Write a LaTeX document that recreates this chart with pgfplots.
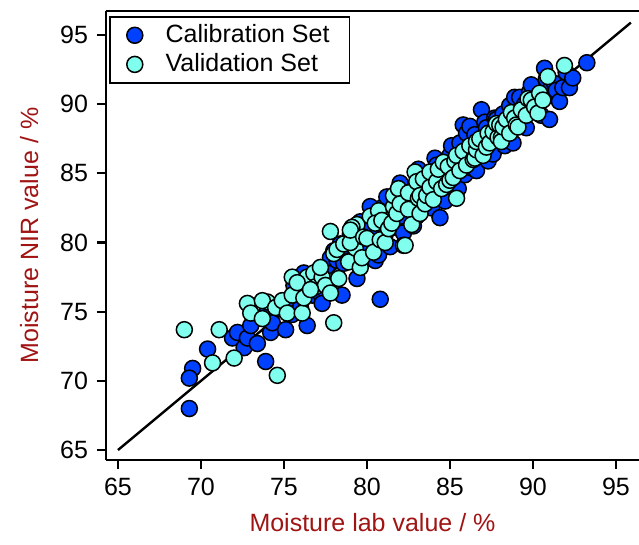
\documentclass[border=0pt]{standalone}
\usepackage{pgfplots}
\pgfplotsset{compat=1.18}
\usepackage{fontspec}
\setmainfont{Liberation Sans}
\usetikzlibrary{calc}

\definecolor{calblue}{RGB}{0,64,255}
\definecolor{valcyan}{RGB}{128,255,238}
\definecolor{labred}{RGB}{160,20,20}

\pgfplotstableread{
x y
69.3 68.0
69.5 70.9
69.3 70.2
70.4 72.3
71.9 73.1
72.2 73.5
72.6 72.4
72.8 73.1
73.0 74.0
73.4 72.7
73.9 71.4
74.0 75.0
74.2 73.5
74.3 74.2
74.7 75.2
75.0 75.5
75.1 73.7
75.5 74.8
75.3 75.9
75.6 76.9
75.8 76.5
76.0 75.3
76.1 76.1
76.2 77.8
76.4 74.0
76.7 76.2
76.5 77.4
77.0 77.9
77.1 77.0
77.2 76.3
77.3 75.6
77.6 78.3
77.8 78.9
77.9 77.0
78.0 79.4
78.2 78.7
78.4 79.9
78.5 76.2
78.6 78.5
78.8 79.5
79.0 80.6
79.0 79.6
79.2 78.9
79.4 77.4
79.5 80.2
79.6 81.5
79.8 79.4
80.0 79.8
80.1 81.0
80.2 82.6
80.3 81.9
80.4 80.2
80.5 78.7
80.6 80.6
80.7 79.1
80.8 75.9
80.9 81.8
81.0 82.6
81.1 80.6
81.2 83.3
81.3 82.2
81.4 79.7
81.6 81.1
81.8 83.0
81.9 81.6
82.0 81.9
82.0 84.3
82.2 80.7
82.4 83.6
82.6 82.6
82.7 83.2
82.8 81.2
82.9 84.0
83.0 81.9
83.1 85.3
83.3 83.3
83.5 84.8
83.7 82.6
83.8 83.9
83.9 82.5
84.0 84.3
84.1 86.1
84.2 85.6
84.4 81.8
84.6 83.4
84.7 83.0
84.8 85.2
84.9 84.6
85.0 86.3
85.1 87.0
85.2 84.0
85.4 85.8
85.5 83.9
85.6 87.2
85.7 86.0
85.8 88.5
85.9 84.9
86.0 87.9
86.1 86.5
86.2 88.4
86.3 85.4
86.4 86.8
86.5 87.8
86.6 85.2
86.7 86.3
86.9 89.6
87.0 87.1
87.1 88.7
87.2 88.3
87.3 85.9
87.4 87.4
87.5 88.0
87.6 86.4
87.7 89.0
87.8 88.9
88.0 87.7
88.2 89.3
88.3 87.0
88.4 88.1
88.5 88.6
88.6 89.9
88.8 87.2
88.9 90.5
89.0 88.8
89.2 90.5
89.4 89.5
89.5 90.0
89.6 88.3
89.8 90.9
89.9 91.4
90.0 89.7
90.3 90.5
90.5 89.2
90.7 92.6
90.8 91.8
90.9 90.9
91.0 88.9
91.3 91.5
91.4 91.0
91.6 90.2
91.8 91.2
92.2 91.2
92.0 92.3
92.4 91.9
93.25 93.0
}\calset

\pgfplotstableread{
x y
69.0 73.7
71.1 73.7
70.7 71.3
72.0 71.65
74.6 70.4
78.0 74.2
72.8 75.6
73.0 74.9
73.7 74.5
74.0 75.7
73.7 75.8
74.5 75.3
74.9 75.8
75.2 74.9
75.5 76.2
76.1 74.9
76.2 76.0
76.4 77.5
76.8 77.8
76.9 76.8
77.3 77.5
77.5 76.9
77.8 76.35
75.5 77.5
75.8 77.1
76.6 76.6
77.2 78.2
78.0 79.2
78.3 77.4
78.2 79.5
78.6 79.9
78.9 78.6
77.8 80.8
79.3 79.6
79.4 81.3
79.6 78.2
79.7 78.9
79.0 80.0
79.1 81.1
79.0 80.9
79.8 80.4
80.0 80.3
80.2 81.9
80.4 79.3
80.7 82.3
80.8 80.2
80.5 81.4
80.9 81.6
81.1 80.0
81.3 81.0
81.5 81.4
81.6 82.6
81.6 83.4
81.8 82.1
81.9 83.9
82.0 82.8
82.2 79.8
82.3 79.8
82.5 83.6
82.5 82.4
82.7 81.3
82.9 85.1
83.0 84.4
83.1 83.2
83.2 83.4
83.2 82.1
83.4 84.6
83.5 82.8
83.6 83.4
83.8 84.0
83.8 85.1
84.0 83.1
84.2 84.4
84.3 85.3
84.5 83.9
84.6 85.8
84.8 84.2
84.9 85.5
85.0 84.5
85.2 84.7
85.3 85.9
85.4 83.2
85.4 86.3
85.6 85.2
85.8 86.6
86.0 85.6
86.2 87.0
86.4 86.0
86.5 86.1
86.6 86.7
86.6 87.3
86.8 87.5
87.0 86.3
87.2 86.9
87.3 87.9
87.4 87.2
87.6 88.0
87.8 88.6
87.9 87.6
88.0 88.5
88.1 87.6
88.1 87.3
88.2 88.35
88.4 88.9
88.6 87.9
88.7 89.4
88.9 89.0
89.0 88.5
89.1 88.35
89.3 89.6
89.6 89.2
89.7 90.4
89.9 90.3
90.1 89.8
90.3 89.35
90.4 90.8
90.6 90.3
90.9 92.0
91.9 92.8
}\valset

\begin{document}
\begin{tikzpicture}
\begin{axis}[
    scale only axis,
    width=266.5pt, height=224.5pt,
    xmin=64.28, xmax=96.39,
    ymin=64.28, ymax=96.74,
    xtick={65,70,...,95},
    ytick={65,70,...,95},
    axis x line*=box,
    axis y line*=left,
    xtick pos=bottom,
    ytick pos=left,
    tick align=outside,
    major tick length=4.5pt,
    axis line style={line width=1.1pt},
    every tick/.style={line width=1.1pt, black},
    font=\fontsize{12.5}{15}\selectfont,
    /pgf/number format/assume math mode=true,
    xticklabel style={yshift=-1pt},
    yticklabel style={xshift=-1pt},
    xlabel={Moisture lab value / \%},
    ylabel={Moisture NIR value / \%},
    xlabel style={text=labred, yshift=-2pt},
    ylabel style={text=labred, yshift=4pt},
    clip=false,
    legend style={at={(0.006,0.989)}, anchor=north west,
        draw=black, line width=0.8pt, inner xsep=8pt, inner ysep=2pt,
        row sep=0pt, font=\fontsize{12.5}{15}\selectfont},
    legend cell align=left,
    legend image code/.code={\path (0pt,0pt) (17pt,0pt);
        \draw[#1] plot coordinates {(4pt,0pt)};},
]
\addplot[black, line width=1.2pt, forget plot] coordinates {(65,65) (95.9,95.9)};
\addplot[only marks, mark=*, mark size=4pt,
    mark options={fill=calblue, draw=black, line width=0.75pt}]
    table[x=x, y=y] {\calset};
\addlegendentry{Calibration Set}
\addplot[only marks, mark=*, mark size=4pt,
    mark options={fill=valcyan, draw=black, line width=0.75pt}]
    table[x=x, y=y] {\valset};
\addlegendentry{Validation Set}
\end{axis}
\pgfresetboundingbox
\path[use as bounding box] ($(current axis.south west)+(-53pt,-42.5pt)$)
    rectangle ($(current axis.north east)+(0pt,5.5pt)$);
\end{tikzpicture}
\end{document}
